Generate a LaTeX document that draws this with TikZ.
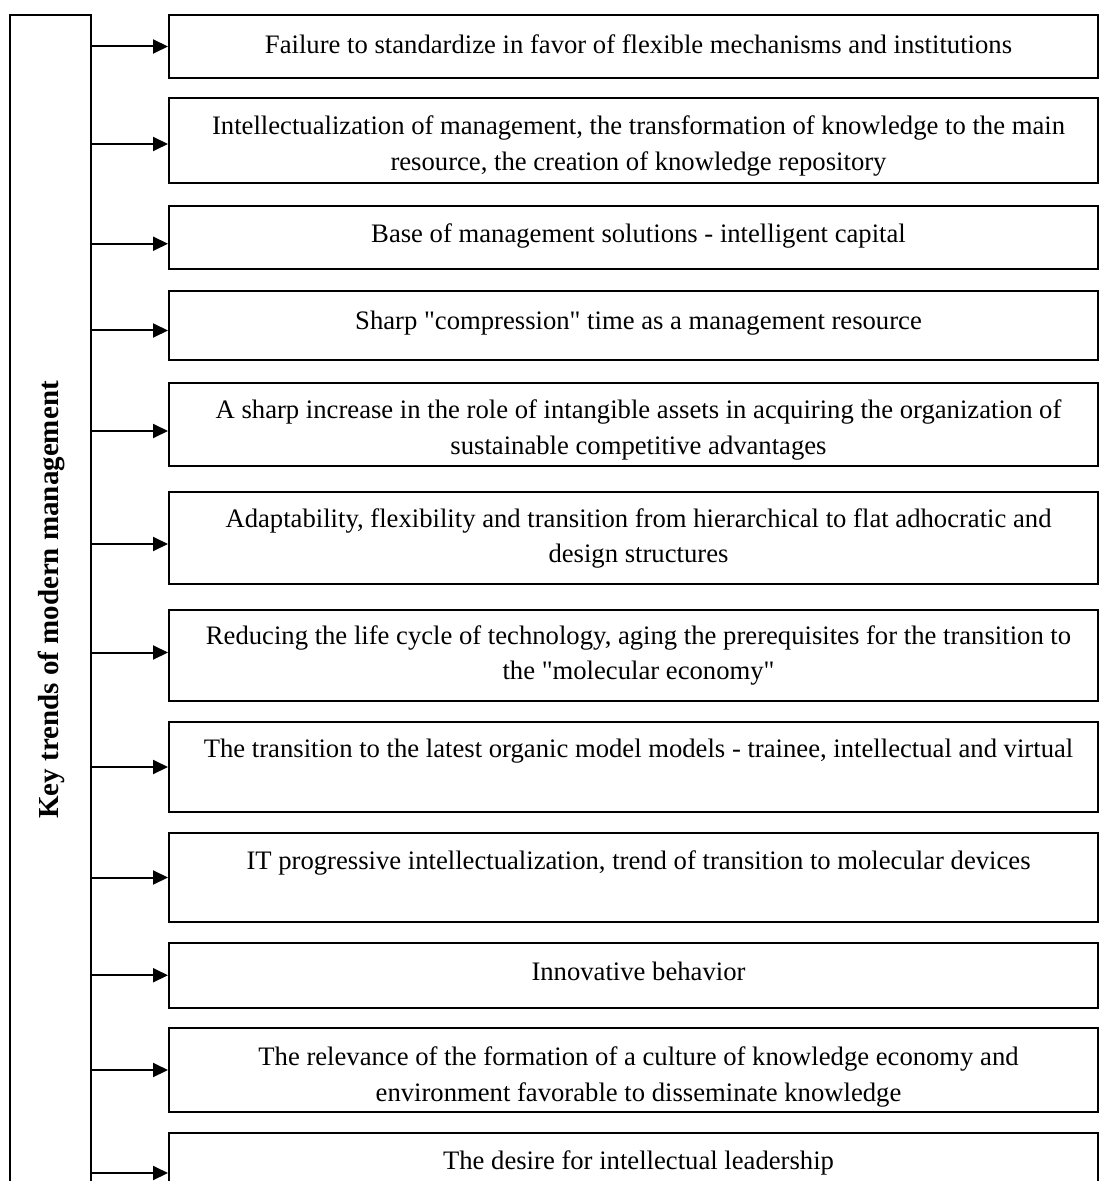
\documentclass[tikz,border=0pt]{standalone}
\usepackage{fontspec}
\setmainfont{Liberation Serif}
\definecolor{color0}{HTML}{000000}
\definecolor{bgColor}{HTML}{ffffff}
\usetikzlibrary{arrows.meta}

\begin{document}
\begin{tikzpicture}
\tikzset{x=0.5pt,y=-0.5pt}
\tikzset{
  trendbox/.style={draw=color0, line width=1pt, minimum width=464.5pt, inner sep=0pt, anchor=north west},
  trendtext/.style={color=color0, anchor=base, align=center, inner sep=0pt, font=\fontsize{13.33}{17.75}\selectfont},
  feed/.style={line width=1pt, color=color0, -{Triangle[length=7.5pt,width=7pt]}}
}
\useasboundingbox (0,0) rectangle (1100,1181);
\clip (0,0) rectangle (1100,1181);
\fill[bgColor] (0,0) rectangle (1100,1181);
% left column
\node[draw=color0, line width=1pt, minimum width=40.5pt, minimum height=595pt, inner sep=0pt, anchor=north west] (trend) at (9,14) {};
\node[color=color0, rotate=90, anchor=base, inner sep=0pt, font=\bfseries\fontsize{14.5}{17}\selectfont] (key) at (58,600) {Key trends of modern management};
% boxes (two-line texts sit on their last baseline)
\node[trendbox, minimum height=31.5pt] (b1) at (168,14) {};
\node[trendtext] (t1) at (638.5,54) {Failure to standardize in favor of flexible mechanisms and institutions};
\node[trendbox, minimum height=42.5pt] (b2) at (168,97) {};
\node[trendtext] (t2) at (638.5,170.5) {Intellectualization of management, the transformation of knowledge to the main\\resource, the creation of knowledge repository};
\node[trendbox, minimum height=31.75pt] (b3) at (168,205) {};
\node[trendtext] (t3) at (638.5,243) {Base of management solutions - intelligent capital};
\node[trendbox, minimum height=34.5pt] (b4) at (168,290) {};
\node[trendtext] (t4) at (638.5,330) {Sharp \textquotedbl compression\textquotedbl{} time as a management resource};
\node[trendbox, minimum height=41.5pt] (b5) at (168,382) {};
\node[trendtext] (t5) at (638.5,454) {A sharp increase in the role of intangible assets in acquiring the organization of\\sustainable competitive advantages};
\node[trendbox, minimum height=46pt] (b6) at (168,491) {};
\node[trendtext] (t6) at (638.5,562.5) {Adaptability, flexibility and transition from hierarchical to flat adhocratic and\\design structures};
\node[trendbox, minimum height=45.5pt] (b7) at (168,609) {};
\node[trendtext] (t7) at (638.5,679.5) {Reducing the life cycle of technology, aging the prerequisites for the transition to\\the \textquotedbl molecular economy\textquotedbl};
\node[trendbox, minimum height=45pt] (b8) at (168,721) {};
\node[trendtext] (t8) at (638.5,757) {The transition to the latest organic model models - trainee, intellectual and virtual};
\node[trendbox, minimum height=44.5pt] (b9) at (168,832) {};
\node[trendtext] (t9) at (638.5,869) {IT progressive intellectualization, trend of transition to molecular devices};
\node[trendbox, minimum height=32.25pt] (b10) at (168,942) {};
\node[trendtext] (t10) at (638.5,980) {Innovative behavior};
\node[trendbox, minimum height=42pt] (b11) at (168,1027) {};
\node[trendtext] (t11) at (638.5,1101) {The relevance of the formation of a culture of knowledge economy and\\environment favorable to disseminate knowledge};
\node[trendbox, minimum height=40pt] (b12) at (168,1132) {};
\node[trendtext] (t12) at (638.5,1169) {The desire for intellectual leadership};
% arrow ends
\coordinate (p2) at ([yshift=-1.75pt]b2.west);
\coordinate (p3) at ([yshift=-3pt]b3.west);
\coordinate (p4) at ([yshift=-2.5pt]b4.west);
\coordinate (p5) at ([yshift=-3.25pt]b5.west);
\coordinate (p6) at ([yshift=-3pt]b6.west);
\coordinate (p7) at ([yshift=1.5pt]b7.west);
% arrows
\draw[feed] (trend.east |- b1.west) -- (b1.west);
\draw[feed] (trend.east |- p2) -- (p2);
\draw[feed] (trend.east |- p3) -- (p3);
\draw[feed] (trend.east |- p4) -- (p4);
\draw[feed] (trend.east |- p5) -- (p5);
\draw[feed] (trend.east |- p6) -- (p6);
\draw[feed] (trend.east |- p7) -- (p7);
\draw[feed] (trend.east |- b8.west) -- (b8.west);
\draw[feed] (trend.east |- b9.west) -- (b9.west);
\draw[feed] (trend.east |- b10.west) -- (b10.west);
\draw[feed] (trend.east |- b11.west) -- (b11.west);
\draw[feed] (trend.east |- b12.west) -- (b12.west);
\end{tikzpicture}
\end{document}
